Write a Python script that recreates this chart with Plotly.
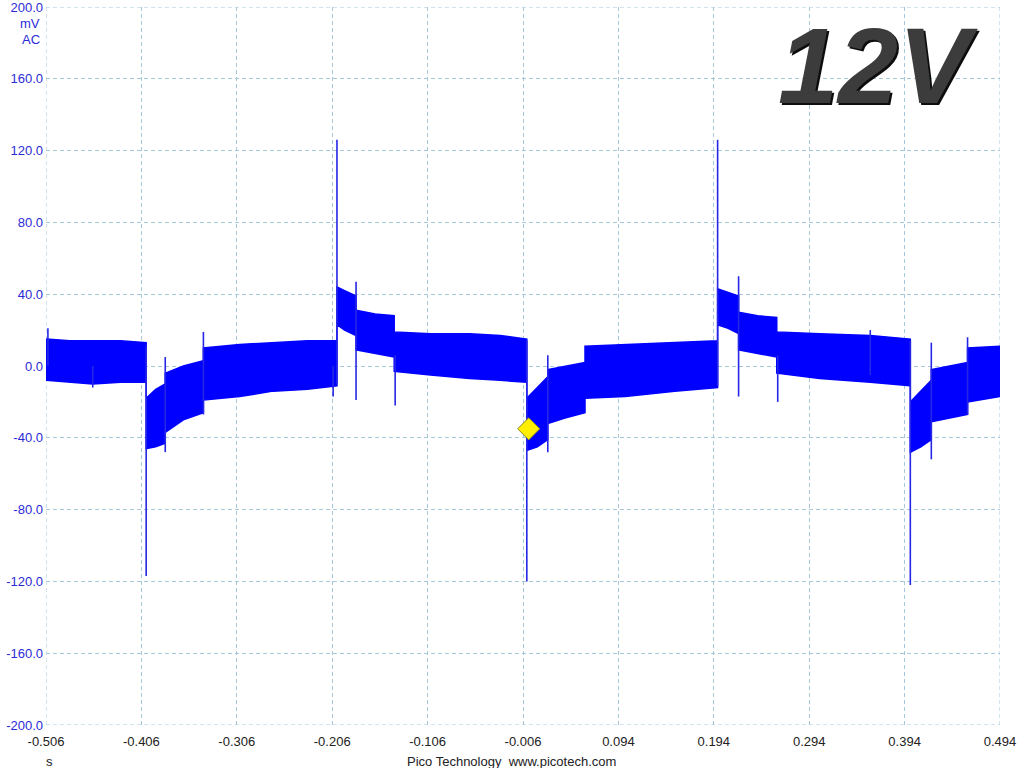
import plotly.graph_objects as go

# ---------------- data ----------------
# envelope of the dense ripple band: time (s), upper (mV), lower (mV)
env_t = [-0.506, -0.481, -0.457, -0.428, -0.401,
         -0.401, -0.391, -0.381,
         -0.381, -0.362, -0.341,
         -0.341, -0.303, -0.268, -0.232, -0.201,
         -0.201, -0.193, -0.181,
         -0.181, -0.161, -0.141,
         -0.141, -0.103, -0.062, -0.030, -0.002,
         -0.002, 0.009, 0.020,
         0.020, 0.038, 0.059,
         0.059, 0.101, 0.153, 0.198,
         0.198, 0.209, 0.220,
         0.220, 0.240, 0.260,
         0.260, 0.305, 0.358, 0.400,
         0.400, 0.411, 0.422,
         0.422, 0.442, 0.460,
         0.460, 0.494]
env_hi = [15, 14, 14, 14, 13,
          -18, -13, -10,
          -4, 0, 3,
          10, 12, 13, 14, 14,
          44, 42, 39,
          31, 29, 28,
          19, 18, 18, 17, 15,
          -18, -12, -6,
          -2, 0, 2,
          11, 12, 13, 14,
          43, 41, 39,
          30, 28, 27,
          19, 18, 17, 15,
          -20, -14, -8,
          -2, 0, 2,
          10, 11]
env_lo = [-8, -9, -10, -9, -9,
          -46, -45, -43,
          -37, -30, -26,
          -19, -17, -14, -13, -11,
          23, 20, 17,
          9, 7, 5,
          -3, -5, -7, -8, -9,
          -47, -45, -41,
          -32, -29, -26,
          -18, -17, -14, -12,
          23, 21, 18,
          9, 7, 5,
          -4, -7, -9, -11,
          -48, -45, -41,
          -31, -29, -27,
          -20, -17]

# isolated spikes: time (s), low (mV), high (mV)
spike_t = [-0.504, -0.457, -0.401, -0.381, -0.341, -0.205, -0.201, -0.181,
           -0.140, -0.002, 0.020, 0.198, 0.220, 0.261, 0.358, 0.400, 0.422, 0.460]
spike_lo = [0, -12, -117, -48, -27, -17, -10, -19,
            -22, -120, -48, -11, -17, -20, -5, -122, -52, -27]
spike_hi = [21, 0, 11, 5, 19, 0, 126, 47,
            6, 14, 6, 126, 50, 6, 20, 14, 13, 16]

trigger_t = [0.0]
trigger_v = [-35.0]

x_ticks = [-0.506, -0.406, -0.306, -0.206, -0.106, -0.006, 0.094, 0.194, 0.294, 0.394, 0.494]
x_labels = ["-0.506", "-0.406", "-0.306", "-0.206", "-0.106", "-0.006",
            "0.094", "0.194", "0.294", "0.394", "0.494"]
y_ticks = [200, 160, 120, 80, 40, 0, -40, -80, -120, -160, -200]
y_labels = ["200.0", "160.0", "120.0", "80.0", "40.0", "0.0",
            "-40.0", "-80.0", "-120.0", "-160.0", "-200.0"]

# ---------------- figure ----------------
BLUE = "#0000ff"
GRID = "#a6c8da"
DASH = "4px,3px"
FONT = "Liberation Sans, Arial, sans-serif"

fig = go.Figure()

band_x = env_t + env_t[::-1]
band_y = env_hi + env_lo[::-1]
fig.add_trace(go.Scatter(x=band_x, y=band_y, mode="lines", fill="toself",
                         fillcolor=BLUE, line=dict(color=BLUE, width=1.5),
                         hoverinfo="skip", showlegend=False))

sx, sy = [], []
for t, lo, hi in zip(spike_t, spike_lo, spike_hi):
    sx += [t, t, None]
    sy += [lo, hi, None]
fig.add_trace(go.Scatter(x=sx, y=sy, mode="lines",
                         line=dict(color="#2626e6", width=1.6),
                         hoverinfo="skip", showlegend=False))

fig.add_trace(go.Scatter(x=trigger_t, y=trigger_v, mode="markers",
                         marker=dict(symbol="diamond", size=17, color="#ffee00",
                                     line=dict(color="#8a8a20", width=1)),
                         hoverinfo="skip", showlegend=False))

fig.update_xaxes(range=[x_ticks[0], x_ticks[-1]], tickvals=x_ticks, ticktext=x_labels,
                 showgrid=True, gridcolor=GRID, griddash=DASH, gridwidth=1,
                 zeroline=False, showline=False, ticks="", automargin=False,
                 ticklabeloverflow="allow", ticklabelstandoff=7,
                 tickfont=dict(family=FONT, size=13, color="#222222"))
fig.update_yaxes(range=[y_ticks[-1], y_ticks[0]], tickvals=y_ticks, ticktext=y_labels,
                 showgrid=True, gridcolor=GRID, griddash=DASH, gridwidth=1,
                 zeroline=False, showline=False, ticks="", automargin=False,
                 ticklabelstandoff=2, ticklabeloverflow="allow",
                 tickfont=dict(family=FONT, size=13, color="#2b2bd6"))

# plot-edge dashed lines
for xv in [x_ticks[0], x_ticks[-1]]:
    fig.add_shape(type="line", xref="x", yref="paper", x0=xv, x1=xv, y0=0, y1=1,
                  line=dict(color=GRID, width=1, dash=DASH), layer="below")
for yv in [y_ticks[0], y_ticks[-1]]:
    fig.add_shape(type="line", xref="paper", yref="y", x0=0, x1=1, y0=yv, y1=yv,
                  line=dict(color=GRID, width=1, dash=DASH), layer="below")

fig.add_annotation(text="mV", xref="paper", yref="paper", x=-0.004, y=0.977,
                   xanchor="right", yanchor="middle", showarrow=False,
                   font=dict(family=FONT, size=13, color="#2b2bd6"))
fig.add_annotation(text="AC", xref="paper", yref="paper", x=-0.004, y=0.955,
                   xanchor="right", yanchor="middle", showarrow=False,
                   font=dict(family=FONT, size=13, color="#2b2bd6"))
fig.add_annotation(text="s", xref="paper", yref="paper", x=0.004, y=-0.051,
                   xanchor="center", yanchor="middle", showarrow=False,
                   font=dict(family=FONT, size=13, color="#222222"))
fig.add_annotation(text="Pico Technology  www.picotech.com", xref="paper", yref="paper",
                   x=0.488, y=-0.051, xanchor="center", yanchor="middle", showarrow=False,
                   font=dict(family=FONT, size=13, color="#222222"))
# big "12V" label with a soft shadow
fig.add_annotation(text="<b><i>12V</i></b>", xref="paper", yref="paper", x=0.874, y=0.916,
                   xanchor="center", yanchor="middle", showarrow=False,
                   font=dict(family=FONT, size=108, color="#0d0d0d"))
fig.add_annotation(text="<b><i>12V</i></b>", xref="paper", yref="paper", x=0.872, y=0.918,
                   xanchor="center", yanchor="middle", showarrow=False,
                   font=dict(family=FONT, size=108, color="#3c3c3c"))

fig.update_layout(width=1024, height=768, paper_bgcolor="white", plot_bgcolor="white",
                  margin=dict(l=46, r=24, t=7, b=43, autoexpand=False), showlegend=False)

fig.write_html("out.html", config={"displayModeBar": False},
               post_script="document.body.style.margin='0';document.body.style.padding='0';")
